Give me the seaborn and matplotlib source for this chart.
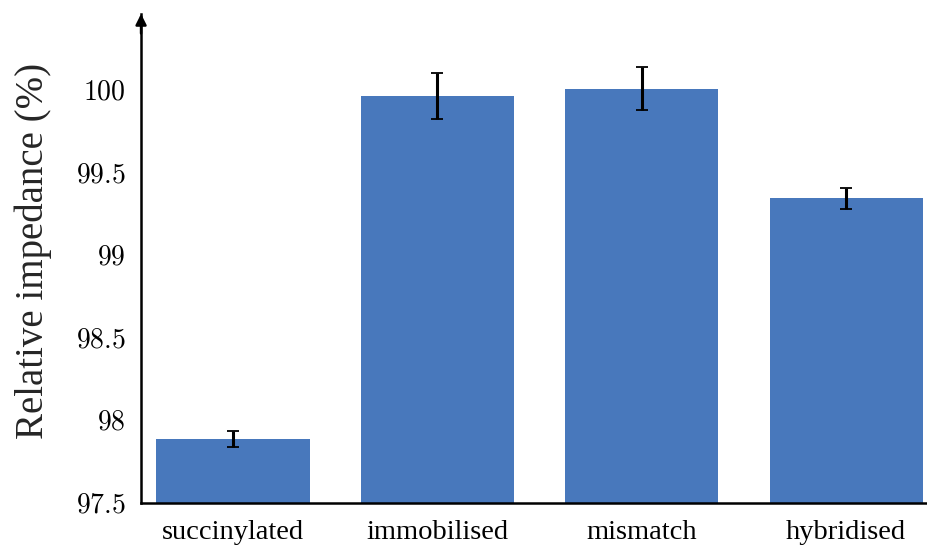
import matplotlib
matplotlib.use("Agg")
import matplotlib.pyplot as plt
import seaborn as sns
import pandas as pd
import numpy as np

categories = ["succinylated", "immobilised", "mismatch", "hybridised"]
values = [97.885, 99.962, 100.006, 99.343]
errors = [0.048, 0.14, 0.13, 0.066]
ytick_vals = [97.5, 98, 98.5, 99, 99.5, 100]
ytick_labels = ["97.5", "98", "98.5", "99", "99.5", "100"]

sns.set_theme(style="white")
plt.rcParams["font.family"] = ["Liberation Serif", "DejaVu Serif"]
plt.rcParams["mathtext.fontset"] = "cm"

df = pd.DataFrame({"cat": categories, "val": values, "err": errors})

fig = plt.figure(figsize=(9.28, 5.54), dpi=100)
ax = fig.add_axes([0.152, 0.092, 0.848, 0.883])

sns.barplot(data=df, x="cat", y="val", color="#4878bc", saturation=1,
            width=0.75, errorbar=None, ax=ax, linewidth=0)
ax.errorbar(np.arange(len(categories)), df["val"], yerr=df["err"], fmt="none",
            ecolor="black", elinewidth=2.2, capsize=4.5, capthick=1.3)

ax.set_ylim(97.5, 100.46)
ax.set_xlim(-0.45, 3.4)
ax.set_yticks(ytick_vals)
ax.set_yticklabels([f"${t}$" for t in ytick_labels], fontsize=20)
ax.set_xlabel("")
ax.set_ylabel("Relative impedance (%)", fontsize=28)
ax.yaxis.set_label_coords(-0.113, 0.515)
for lbl in ax.get_xticklabels():
    lbl.set_fontsize(20.5)

for s in ["top", "right"]:
    ax.spines[s].set_visible(False)
for s in ["left", "bottom"]:
    ax.spines[s].set_color("black")
    ax.spines[s].set_linewidth(1.8)

ax.tick_params(axis="y", direction="inout", length=10, width=1.3, colors="black", pad=6)
ax.tick_params(axis="x", direction="out", length=8, width=1.3, colors="black", pad=4)
ax.tick_params(axis="both", labelcolor="black")

ax.annotate("", xy=(0, 1.0), xytext=(0, 0.96), xycoords="axes fraction",
            arrowprops=dict(arrowstyle="-|>", color="black", lw=1.8, mutation_scale=16,
                            shrinkA=0, shrinkB=0), annotation_clip=False)

fig.savefig("out.png", dpi=100)
